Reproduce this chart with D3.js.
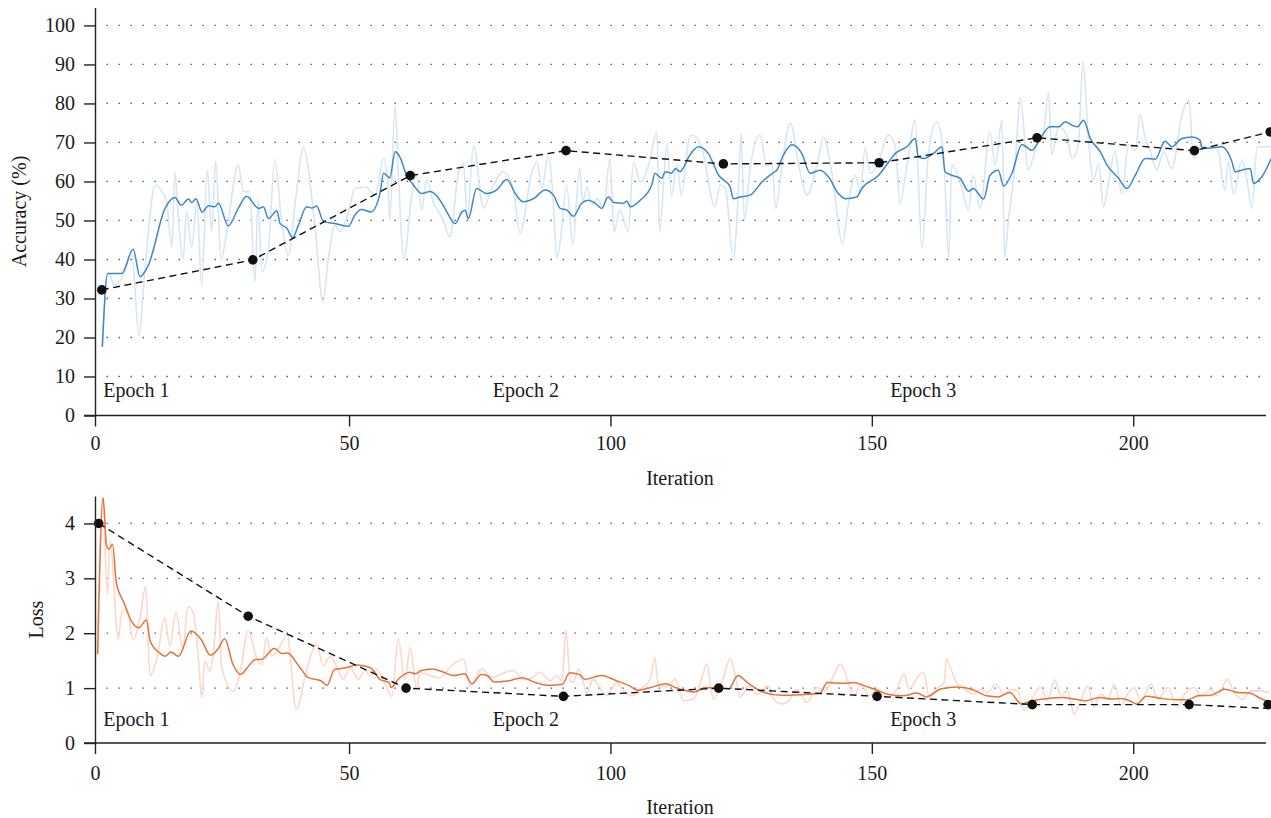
<!DOCTYPE html>
<html><head><meta charset="utf-8">
<script src="https://cdn.jsdelivr.net/npm/d3@7"></script>
<style>
body{margin:0;background:#fff}
svg{display:block}
text{font-family:"Liberation Serif","Times New Roman",serif;fill:#1a1a1a}
</style>
</head><body>
<svg id="c" width="1271" height="818"></svg>
<script>
// ---------------- DATA ----------------
const xTicks = [0, 50, 100, 150, 200];
const accTicks = [0, 10, 20, 30, 40, 50, 60, 70, 80, 90, 100];
const lossTicks = [0, 1, 2, 3, 4];
const epochLabels = ["Epoch 1", "Epoch 2", "Epoch 3"];
const epochLabelIter = [3, 77.5, 153.5];

// accuracy per iteration (raw)
const accRaw = [[2.8,17.6],[3.9,36.4],[5.2,33.4],[7.1,36.8],[8.4,42.0],[9.8,20.6],[11.0,38.3],[12.9,59.1],[14.2,57.4],[15.1,54.8],[16.1,43.2],[16.7,62.3],[17.3,51.4],[18.3,40.3],[18.9,52.2],[19.9,43.2],[20.9,54.8],[21.8,33.4],[22.9,62.9],[23.7,47.1],[24.5,65.2],[25.5,39.8],[26.6,47.1],[28.8,64.2],[29.8,57.4],[31.0,57.4],[32.0,34.3],[32.6,55.6],[33.3,36.8],[34.6,43.2],[35.8,65.7],[37.1,49.7],[38.4,41.1],[39.7,54.6],[41.3,68.9],[42.2,63.3],[43.5,48.0],[45.0,29.1],[46.0,39.8],[47.3,48.8],[48.3,47.1],[49.9,52.2],[51.1,58.2],[53.1,58.6],[55.0,56.5],[56.6,65.9],[57.4,59.9],[57.8,50.1],[58.8,79.6],[59.4,62.5],[60.5,40.1],[62.0,56.5],[62.9,61.6],[63.9,52.6],[64.8,60.4],[66.1,54.8],[68.0,50.1],[69.3,45.8],[70.9,62.1],[71.9,64.6],[72.6,50.5],[73.8,69.2],[75.7,53.1],[77.3,58.2],[79.5,62.5],[81.4,58.2],[82.7,46.7],[84.9,62.1],[85.9,65.0],[86.9,58.2],[88.1,66.8],[89.1,54.0],[89.7,40.4],[90.4,44.6],[91.6,59.1],[92.8,43.8],[94.1,63.3],[94.7,54.8],[95.5,58.6],[96.4,54.0],[97.4,55.6],[98.7,53.1],[99.9,65.9],[100.7,47.1],[101.8,52.6],[103.4,47.1],[104.4,65.0],[105.7,59.9],[107.3,64.2],[108.9,72.6],[109.4,47.1],[110.8,69.7],[111.7,56.5],[112.7,64.2],[113.6,56.5],[114.9,70.1],[115.6,71.9],[117.5,68.5],[120.0,53.5],[121.0,59.1],[122.0,58.2],[123.5,40.1],[124.5,58.2],[125.0,72.3],[125.6,50.1],[126.7,63.3],[128.6,71.9],[129.9,64.0],[130.9,64.9],[131.6,53.1],[132.8,64.0],[134.4,74.9],[136.0,64.2],[137.6,56.5],[139.5,64.2],[140.8,71.4],[142.3,62.5],[144.4,44.2],[145.5,54.0],[146.8,61.6],[147.8,57.4],[148.7,68.5],[149.7,62.1],[151.0,64.0],[153.2,71.9],[154.5,68.9],[155.4,54.4],[156.7,64.0],[158.3,75.7],[159.6,42.7],[160.8,66.8],[162.4,75.3],[163.7,67.6],[164.7,40.6],[165.3,64.2],[166.9,59.9],[168.5,52.6],[169.4,61.6],[170.7,53.1],[172.6,72.7],[173.6,64.2],[174.9,75.7],[175.4,40.6],[176.1,49.7],[177.4,64.2],[178.4,81.5],[179.9,62.9],[181.6,69.4],[182.8,71.9],[183.8,82.8],[184.4,66.8],[185.7,74.0],[187.3,71.9],[188.3,65.9],[189.5,69.4],[190.4,90.8],[191.4,71.4],[192.4,60.4],[193.4,64.6],[194.3,53.5],[195.3,59.9],[196.5,67.6],[197.8,56.9],[199.1,69.4],[200.4,68.0],[201.3,77.2],[202.3,71.0],[203.2,68.0],[204.5,62.9],[205.8,67.6],[207.4,63.3],[209.3,77.0],[210.7,80.9],[211.5,65.9],[213.1,69.4],[214.4,68.5],[216.0,69.4],[217.5,57.8],[218.2,65.0],[219.2,56.9],[220.8,65.5],[221.7,60.8],[222.7,53.1],[223.7,68.9],[226.4,68.9]];

// accuracy (smoothed)
const accSmooth = [[2.8,17.6],[3.8,36.4],[6.5,36.4],[8.7,42.6],[10.0,35.6],[11.6,38.5],[14.8,53.1],[16.7,55.9],[17.9,53.9],[19.3,55.5],[19.9,54.6],[20.7,55.6],[21.9,52.1],[23.1,53.8],[24.3,53.5],[25.0,54.4],[26.9,48.6],[28.8,53.1],[30.4,56.2],[32.7,53.1],[33.6,53.5],[34.6,50.5],[36.2,52.5],[36.8,49.2],[38.1,48.0],[39.2,45.6],[40.3,48.8],[41.9,53.5],[42.9,53.2],[43.8,53.7],[45.1,49.7],[47.3,49.2],[49.9,48.5],[51.1,51.4],[52.4,52.8],[54.2,52.2],[55.9,56.9],[56.6,62.1],[57.8,60.9],[58.8,67.6],[59.7,66.3],[61.0,61.6],[62.3,59.1],[63.9,56.9],[65.5,57.4],[67.4,55.2],[68.7,52.2],[70.3,49.2],[71.6,52.2],[72.2,52.6],[72.8,50.5],[74.4,58.2],[76.3,56.9],[78.2,57.8],[80.2,60.5],[81.8,56.9],[83.3,54.8],[85.3,55.6],[87.5,57.8],[89.1,56.5],[90.4,53.1],[91.6,52.7],[92.9,51.1],[94.5,54.4],[95.8,55.2],[97.1,54.4],[98.3,53.1],[99.6,56.1],[100.6,54.6],[102.5,54.4],[103.1,55.0],[103.8,53.5],[105.7,55.2],[107.9,59.1],[108.5,62.1],[109.8,60.8],[110.5,62.5],[111.7,62.1],[112.4,63.3],[113.3,62.5],[115.2,66.8],[116.8,68.9],[118.7,67.2],[120.7,61.6],[122.9,58.6],[123.5,55.6],[124.8,56.0],[126.7,56.5],[129.0,59.9],[131.2,62.3],[131.8,62.9],[133.1,66.8],[134.7,69.4],[136.6,67.2],[138.2,62.1],[140.1,62.9],[141.7,61.2],[143.6,56.9],[144.9,55.6],[147.1,56.0],[148.1,58.2],[151.3,61.6],[153.5,65.5],[154.5,67.2],[156.7,68.9],[158.3,71.0],[158.9,66.3],[159.9,65.9],[161.8,67.2],[163.4,68.9],[164.0,62.5],[165.3,61.6],[166.9,60.8],[168.5,57.5],[169.4,58.2],[171.4,55.5],[172.6,61.6],[174.2,62.9],[175.2,58.8],[176.8,62.1],[178.7,69.5],[180.6,68.0],[182.2,71.0],[184.1,74.0],[185.7,74.0],[187.0,75.3],[188.3,74.4],[189.3,74.0],[190.5,75.7],[191.8,71.0],[193.7,67.6],[195.0,64.2],[197.2,60.8],[198.8,58.2],[200.4,61.6],[202.3,65.9],[204.2,65.7],[206.1,70.3],[207.4,68.9],[209.3,71.0],[211.2,71.4],[212.8,70.6],[213.1,68.8],[214.4,68.5],[217.0,68.9],[218.9,65.0],[219.5,62.5],[220.8,62.9],[222.4,63.3],[223.0,59.5],[224.6,61.2],[226.4,65.9]];

// accuracy per epoch checkpoint
const accEpochIter = [2.7, 31.6, 61.7, 91.5, 121.6, 151.4, 181.6, 211.7, 226.2];
const accEpochVal  = [32.2, 39.9, 61.5, 67.9, 64.5, 64.8, 71.2, 67.9, 72.7];

// loss per iteration (raw)
const lossRaw = [[1.9,1.62],[2.87,4.47],[3.76,2.71],[4.27,3.68],[5.86,1.89],[6.5,2.37],[7.5,2.45],[8.7,1.89],[10.0,2.26],[11.1,2.86],[11.9,1.22],[13.2,1.52],[14.8,2.28],[15.7,1.76],[16.9,2.38],[18.2,1.71],[19.2,2.49],[20.2,2.37],[21.2,1.52],[21.8,0.82],[22.4,1.49],[23.4,1.31],[24.0,1.61],[25.0,2.58],[25.6,1.40],[27.9,0.94],[29.1,1.25],[30.7,2.04],[32.3,1.55],[33.3,1.43],[34.2,1.92],[35.2,1.58],[36.8,1.76],[38.1,1.98],[39.9,0.61],[41.9,1.34],[43.8,1.80],[45.1,1.40],[46.4,1.58],[47.6,1.40],[48.9,1.16],[50.2,1.37],[51.8,1.16],[53.1,1.34],[54.0,1.22],[55.3,1.34],[56.6,1.13],[58.2,0.85],[59.4,1.89],[60.7,1.16],[61.7,1.74],[62.9,0.98],[63.6,1.29],[65.5,1.23],[67.4,1.19],[69.3,1.38],[71.9,1.53],[73.1,1.04],[75.4,1.35],[77.3,1.19],[79.5,1.27],[81.4,1.32],[83.4,1.16],[85.0,1.19],[86.5,1.29],[88.5,1.13],[89.7,1.23],[90.7,1.13],[91.5,2.06],[92.3,1.13],[92.9,1.10],[93.9,1.35],[95.5,0.92],[96.7,1.16],[99.3,0.86],[101.2,1.10],[102.5,0.95],[104.1,0.86],[105.7,0.98],[107.6,1.16],[108.5,1.56],[109.2,1.04],[110.8,1.03],[112.4,1.16],[114.0,0.77],[115.9,0.80],[117.5,1.19],[118.4,1.44],[119.7,0.80],[121.3,1.10],[122.9,1.53],[123.9,1.23],[124.8,0.83],[126.4,1.04],[128.0,0.89],[130.2,1.04],[131.2,0.80],[132.8,0.71],[134.4,0.80],[135.6,0.98],[137.6,0.74],[139.5,1.01],[141.1,0.95],[142.7,1.23],[144.0,1.44],[145.3,1.16],[146.6,0.86],[147.9,1.07],[149.5,0.86],[151.1,0.98],[153.0,0.83],[154.6,0.95],[156.2,1.26],[157.1,0.98],[159.0,1.23],[159.9,1.29],[161.0,0.83],[162.6,1.01],[163.8,1.10],[164.3,1.53],[165.1,1.35],[166.4,1.07],[167.7,0.98],[169.3,0.89],[170.8,0.98],[172.1,0.92],[173.7,1.07],[175.3,0.89],[176.6,0.98],[177.9,0.95],[179.1,0.59],[180.4,0.77],[181.7,0.98],[182.3,1.01],[183.6,0.77],[184.9,1.15],[186.2,0.86],[187.4,0.95],[188.7,0.53],[190.0,0.77],[191.3,1.04],[192.5,0.65],[193.8,0.89],[195.1,0.80],[196.4,1.07],[197.6,0.68],[198.9,0.89],[200.2,1.01],[201.5,0.77],[203.4,1.07],[204.7,0.80],[206.6,1.01],[208.5,0.65],[209.8,0.89],[211.7,1.01],[212.9,0.86],[214.9,0.98],[216.1,0.86],[218.0,1.16],[219.3,0.92],[220.9,0.80],[222.5,0.95],[224.4,0.95],[226.0,0.92]];

// loss (smoothed)
const lossSmooth = [[1.9,1.62],[2.96,4.47],[3.6,3.6],[4.04,3.53],[4.76,3.62],[5.48,2.92],[6.92,2.56],[8.36,2.22],[9.8,2.10],[11.24,2.24],[11.96,1.86],[13.76,1.64],[14.84,1.58],[15.92,1.66],[17.36,1.58],[19.73,2.04],[21.68,1.89],[23.48,1.60],[24.92,1.71],[26.21,1.90],[27.8,1.43],[29.24,1.25],[31.03,1.43],[32.1,1.52],[33.2,1.52],[35.7,1.72],[37.15,1.63],[38.2,1.64],[40.4,1.40],[42.2,1.19],[44.7,1.13],[45.8,1.05],[47.2,1.34],[49.4,1.37],[51.5,1.42],[54.1,1.37],[55.9,1.16],[57.7,1.10],[58.0,1.01],[59.5,1.17],[61.6,1.29],[62.7,1.26],[63.8,1.32],[65.9,1.35],[68.1,1.29],[69.9,1.23],[72.1,1.26],[73.5,1.08],[75.3,1.25],[76.4,1.23],[77.8,1.11],[80.3,1.13],[83.2,1.19],[85.4,1.11],[88.3,1.05],[90.8,1.07],[92.2,1.28],[94.0,1.25],[95.1,1.16],[98.3,1.23],[101.2,1.13],[103.7,1.04],[105.2,0.96],[107.7,1.01],[110.6,1.08],[112.4,1.01],[116.0,0.93],[118.2,1.01],[122.6,0.99],[124.4,1.23],[126.2,1.10],[129.1,0.93],[132.7,0.87],[136.4,0.88],[140.0,0.90],[141.5,1.10],[144.4,1.09],[146.6,1.10],[148.4,1.05],[150.5,0.98],[153.1,0.89],[156.0,0.86],[158.6,0.91],[160.4,0.84],[163.3,0.99],[166.2,1.02],[169.1,0.98],[172.0,0.86],[174.2,0.84],[176.4,0.92],[178.6,0.71],[180.7,0.77],[183.6,0.81],[186.5,0.83],[188.7,0.80],[190.9,0.77],[193.5,0.83],[196.0,0.80],[197.8,0.81],[199.3,0.77],[200.7,0.71],[202.5,0.85],[205.5,0.81],[208.4,0.79],[210.5,0.79],[212.4,0.86],[214.9,0.87],[217.5,0.98],[220.0,0.92],[222.2,0.91],[224.4,0.81],[226.2,0.74]];

// loss per epoch checkpoint
const lossEpochIter = [2.1, 30.7, 60.9, 91.0, 120.7, 151.0, 180.7, 210.7, 225.8];
const lossEpochVal  = [4.0, 2.31, 1.0, 0.85, 1.0, 0.85, 0.70, 0.70, 0.70];
const lossTrendVal  = [4.0, 2.31, 1.0, 0.85, 1.0, 0.85, 0.70, 0.70, 0.63];

// ---------------- DRAW ----------------
const svg = d3.select("#c");
const x = d3.scaleLinear().domain([1.4, 225.4]).range([95, 1266]);
const xAxisScale = x.copy().clamp(true);

function panel(o) {
  const g = svg.append("g");
  const y = d3.scaleLinear().domain(o.domain).range(o.range);

  // dotted grid
  g.append("g").selectAll("line").data(o.ticks.filter(t => t > 0)).join("line")
    .attr("x1", 106.5).attr("x2", 1266)
    .attr("y1", d => y(d)).attr("y2", d => y(d))
    .attr("stroke", "#444").attr("stroke-width", 1.3)
    .attr("stroke-dasharray", "1.3,10.7");

  const line = d3.line().x(d => x(d[0])).y(d => y(d[1])).curve(d3.curveMonotoneX);
  g.append("path").datum(o.raw).attr("d", line)
    .attr("fill", "none").attr("stroke", o.light).attr("stroke-width", 1.6);
  g.append("path").datum(o.smooth).attr("d", line)
    .attr("fill", "none").attr("stroke", o.dark).attr("stroke-width", 1.5);

  const trendLine = d3.line().x(d => x(d[0])).y(d => y(d[1]));
  const trend = o.epIter.map((it, i) => [it, o.trend[i]]);
  g.append("path").datum(trend).attr("d", trendLine)
    .attr("fill", "none").attr("stroke", "#111").attr("stroke-width", 1.4)
    .attr("stroke-dasharray", "7,4.5");
  g.append("g").selectAll("circle").data(o.epIter.map((it, i) => [it, o.epVal[i]])).join("circle")
    .attr("cx", d => x(d[0])).attr("cy", d => y(d[1])).attr("r", 4.8).attr("fill", "#111");

  // epoch labels
  g.append("g").selectAll("text").data(epochLabels).join("text")
    .attr("x", (d, i) => x(epochLabelIter[i])).attr("y", o.epochY)
    .attr("font-size", 20).text(d => d);

  // axes
  const ya = g.append("g").attr("transform", "translate(95,0)")
    .call(d3.axisLeft(y).tickValues(o.ticks).tickFormat(d3.format("d"))
      .tickSize(11).tickSizeOuter(0).tickPadding(9));
  const xa = g.append("g").attr("transform", `translate(0,${o.range[0]})`)
    .call(d3.axisBottom(xAxisScale).tickValues(xTicks).tickFormat(d3.format("d"))
      .tickSize(11).tickSizeOuter(0).tickPadding(o.xPad));
  [ya, xa].forEach(a => {
    a.selectAll("path,line").attr("stroke", "#222").attr("stroke-width", 1.4);
    a.selectAll("text").attr("font-size", 20).attr("fill", "#1a1a1a")
      .attr("font-family", '"Liberation Serif","Times New Roman",serif');
  });
  // extend x axis line left to meet the y-axis tick
  xa.select("path.domain").attr("d", `M84,0H${x.range()[1]}`);

  g.append("text").attr("x", 680).attr("y", o.range[0] + o.xTitleDy)
    .attr("text-anchor", "middle").attr("font-size", 20).text("Iteration");
  g.append("text")
    .attr("transform", `translate(${o.yTitleX},${(o.range[0] + o.range[1]) / 2}) rotate(-90)`)
    .attr("text-anchor", "middle").attr("font-size", 20).text(o.yTitle);
}

panel({
  domain: [0, 104.6], range: [415.5, 7.5], ticks: accTicks,
  raw: accRaw, smooth: accSmooth, light: "#d7e6f2", dark: "#3f87c7",
  epIter: accEpochIter, epVal: accEpochVal, trend: accEpochVal,
  epochY: 397, xPad: 9, xTitleDy: 69, yTitle: "Accuracy (%)", yTitleX: 26
});
panel({
  domain: [0, 4.5], range: [743, 496], ticks: lossTicks,
  raw: lossRaw, smooth: lossSmooth, light: "#fbd8cb", dark: "#e2743c",
  epIter: lossEpochIter, epVal: lossEpochVal, trend: lossTrendVal,
  epochY: 726, xPad: 12, xTitleDy: 71, yTitle: "Loss", yTitleX: 43
});
</script>
</body></html>
